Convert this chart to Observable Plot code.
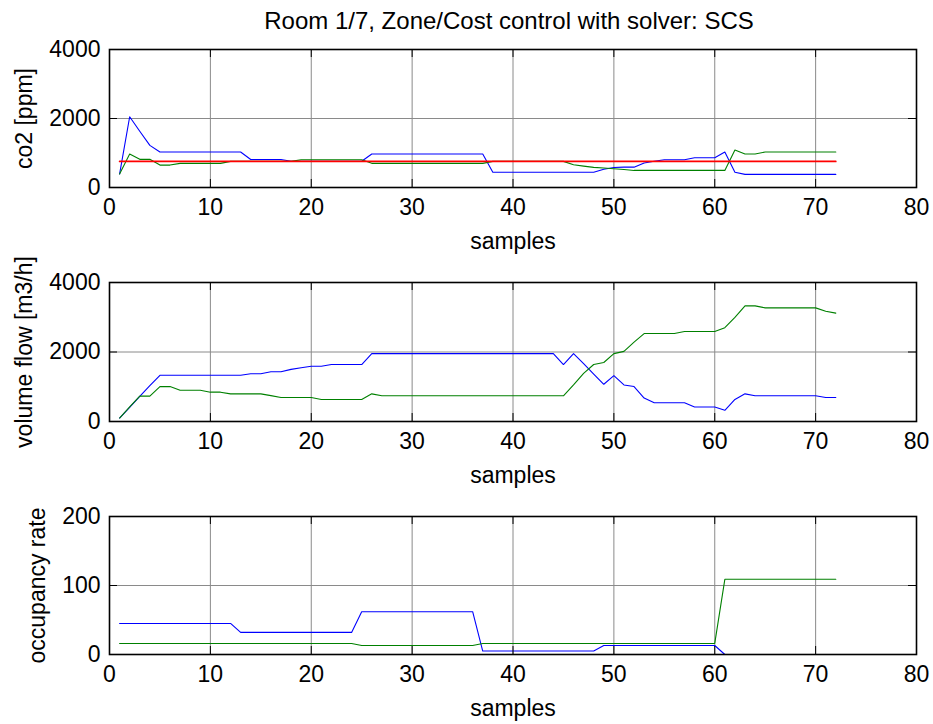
<!DOCTYPE html>
<html>
<head>
<meta charset="utf-8">
<script src="https://cdn.jsdelivr.net/npm/d3@7"></script>
<script src="https://cdn.jsdelivr.net/npm/@observablehq/plot@0.6"></script>
<style>
  body { margin: 0; background: #fff; font-family: "Liberation Sans", Arial, sans-serif; }
  #wrap { position: relative; width: 933px; height: 724px; overflow: hidden; background: #fff; }
  #title { position: absolute; left: 0; top: 7px; width: 1018px; text-align: center;
           font-size: 24px; line-height: 28px; color: #000; white-space: nowrap; }
  .panel { position: absolute; left: 0; }
  .panel svg { overflow: visible; }
</style>
</head>
<body>
<div id="wrap">
  <div id="title"></div>
</div>
<script>
// ---------- data ----------
const samples = [1,2,3,4,5,6,7,8,9,10,11,12,13,14,15,16,17,18,19,20,21,22,23,24,25,26,27,28,29,30,31,32,33,34,35,36,
                 37,38,39,40,41,42,43,44,45,46,47,48,49,50,51,52,53,54,55,56,57,58,59,60,61,62,63,64,65,66,67,68,69,70,71,72];

const xTicks = [0,10,20,30,40,50,60,70,80];
const co2Ticks = [0,2000,4000];
const flowTicks = [0,2000,4000];
const occTicks = [0,100,200];

const title = "Room 1/7, Zone/Cost control with solver: SCS";
const xLabel = "samples";
const co2Label = "co2 [ppm]";
const flowLabel = "volume flow [m3/h]";
const occLabel = "occupancy rate";

// co2 [ppm]
const co2Blue = [390,2050,1630,1220,1030,1030,1030,1030,1030,1030,1030,1030,1030,810,810,810,810,760,760,760,760,760,760,760,760,970,
                 970,970,970,970,970,970,970,970,970,970,970,440,440,440,440,440,440,440,440,440,440,440,530,580,590,590,710,760,806,806,
                 806,864,864,864,1030,440,380,380,380,380,380,380,380,380,380,380];
const co2Green = [390,970,816,816,650,650,700,700,700,700,700,757,757,757,757,757,757,757,806,806,806,806,806,806,806,700,
                  700,700,700,700,700,700,700,700,700,700,700,757,757,757,757,757,757,757,757,660,620,583,565,544,520,495,495,495,495,495,
                  495,495,495,495,495,1087,971,971,1029,1029,1029,1029,1029,1029,1029,1029];
const co2Red = [757,757,757,757,757,757,757,757,757,757,757,757,757,757,757,757,757,757,757,757,757,757,757,757,757,757,
                757,757,757,757,757,757,757,757,757,757,757,757,757,757,757,757,757,757,757,757,757,757,757,757,757,757,757,757,757,757,
                757,757,757,757,757,757,757,757,757,757,757,757,757,757,757,757];

// volume flow [m3/h]
const flowBlue = [100,410,720,1030,1330,1330,1330,1330,1330,1330,1330,1330,1330,1375,1375,1430,1430,1500,1545,1590,1590,1640,1640,1640,1640,1953,
                  1953,1953,1953,1953,1953,1953,1953,1953,1953,1953,1953,1953,1953,1953,1953,1953,1953,1953,1640,1953,1668,1365,1071,1318,1052,1005,673,540,540,540,
                  540,417,417,417,322,635,796,739,739,739,739,739,739,739,692,690];
const flowGreen = [100,420,730,730,1005,1005,900,900,900,844,844,796,796,796,796,744,692,692,692,692,635,635,635,635,635,796,
                   739,739,739,739,739,739,739,739,739,739,739,739,739,739,739,739,739,739,739,1052,1384,1640,1697,1953,2019,2284,2531,2531,2531,2531,
                   2588,2588,2588,2588,2701,2995,3327,3327,3270,3270,3270,3270,3270,3270,3175,3118];

// occupancy rate
const occBlue = [45,45,45,45,45,45,45,45,45,45,45,45,32,32,32,32,32,32,32,32,32,32,32,32,62,62,
                 62,62,62,62,62,62,62,62,62,62,5,5,5,5,5,5,5,5,5,5,5,5,13,13,13,13,13,13,13,13,
                 13,13,13,13,0,0,0,0,0,0,0,0,0,0,0,0];
const occGreen = [16,16,16,16,16,16,16,16,16,16,16,16,16,16,16,16,16,16,16,16,16,16,16,16,13,13,
                  13,13,13,13,13,13,13,13,13,13,16,16,16,16,16,16,16,16,16,16,16,16,16,16,16,16,16,16,16,16,
                  16,16,16,16,109,109,109,109,109,109,109,109,109,109,109,109];

// ---------- drawing ----------
document.getElementById("title").textContent = title;

const FONT = "'Liberation Sans', Arial, Helvetica, sans-serif";
const FS = 23;
const ML = 109, MR = 17, MT = 10, MB = 75, W = 933;
const fmt = d => String(d);

function panel({axTop, axH, yDomain, yTicks, yLabel, yLabelDx, series}) {
  const fw = W - ML - MR;
  const chart = Plot.plot({
    width: W,
    height: MT + axH + MB,
    marginTop: MT, marginBottom: MB, marginLeft: ML, marginRight: MR,
    style: {fontFamily: FONT, fontSize: FS + "px", background: "transparent", color: "#000"},
    x: {domain: [0, 80], ticks: xTicks},
    y: {domain: yDomain, ticks: yTicks},
    marks: [
      Plot.ruleX(xTicks.slice(1, -1), {stroke: "#8a8a8a", strokeWidth: 1}),
      Plot.ruleY(yTicks.slice(1, -1), {stroke: "#8a8a8a", strokeWidth: 1}),
      ...series.map(s => Plot.line(samples, {x: samples, y: s.values, stroke: s.color, strokeWidth: s.width || 1.1})),
      // inward tick marks (box on)
      Plot.ruleX(xTicks, {stroke: "#000", insetTop: axH - 8}),
      Plot.ruleX(xTicks, {stroke: "#000", insetBottom: axH - 8}),
      Plot.ruleY(yTicks, {stroke: "#000", insetRight: fw - 8}),
      Plot.ruleY(yTicks, {stroke: "#000", insetLeft: fw - 8}),
      Plot.frame({stroke: "#000", strokeWidth: 1.6}),
      Plot.axisX(xTicks, {tickSize: 0, tickPadding: 11, label: null, fontSize: FS, tickFormat: fmt}),
      Plot.axisY(yTicks, {tickSize: 0, tickPadding: 9, label: null, fontSize: FS, tickFormat: fmt}),
      Plot.text([xLabel], {text: d => d, frameAnchor: "bottom", dy: 54, lineAnchor: "middle", textAnchor: "middle", fontSize: FS}),
      Plot.text([yLabel], {text: d => d, frameAnchor: "left", dx: yLabelDx, rotate: -90, lineAnchor: "middle", textAnchor: "middle", fontSize: FS})
    ]
  });
  const div = document.createElement("div");
  div.className = "panel";
  div.style.top = (axTop - MT) + "px";
  div.appendChild(chart);
  document.getElementById("wrap").appendChild(div);
}

panel({axTop: 49, axH: 138, yDomain: [0, 4000], yTicks: co2Ticks, yLabel: co2Label, yLabelDx: -85,
       series: [{values: co2Blue, color: "#0000ff"}, {values: co2Green, color: "#008000"}, {values: co2Red, color: "#ff0000", width: 1.7}]});
panel({axTop: 282, axH: 139, yDomain: [0, 4000], yTicks: flowTicks, yLabel: flowLabel, yLabelDx: -85,
       series: [{values: flowBlue, color: "#0000ff"}, {values: flowGreen, color: "#008000"}]});
panel({axTop: 516, axH: 138, yDomain: [0, 200], yTicks: occTicks, yLabel: occLabel, yLabelDx: -72,
       series: [{values: occBlue, color: "#0000ff"}, {values: occGreen, color: "#008000"}]});
</script>
</body>
</html>
